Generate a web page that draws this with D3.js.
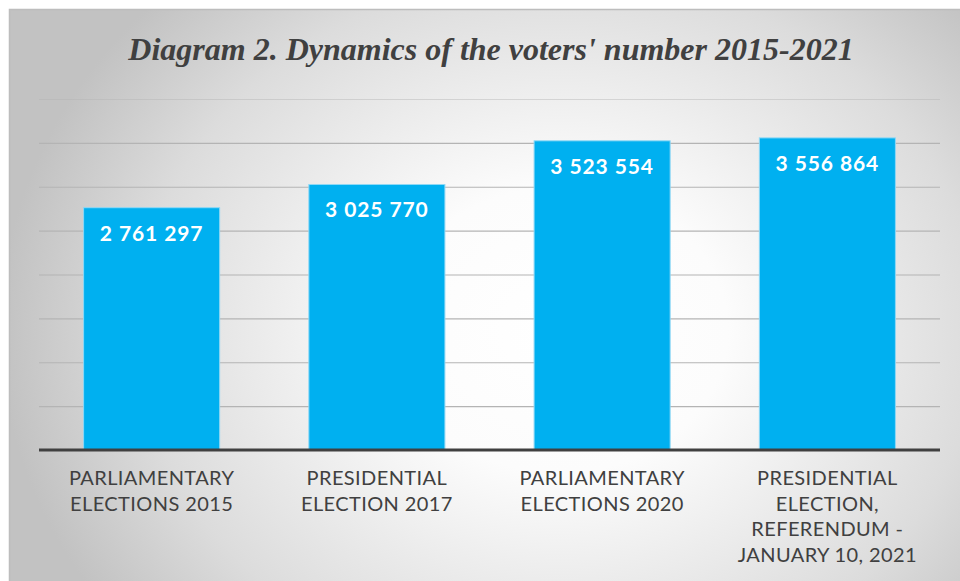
<!DOCTYPE html>
<html>
<head>
<meta charset="utf-8">
<script src="https://cdn.jsdelivr.net/npm/d3@7"></script>
<style>
  html, body { margin: 0; padding: 0; background: #ffffff; }
  svg { display: block; }
</style>
</head>
<body>
<svg id="chart" width="960" height="581"></svg>
<script>
// Elections and registered voters
const categories = [
  ["PARLIAMENTARY", "ELECTIONS 2015"],
  ["PRESIDENTIAL", "ELECTION 2017"],
  ["PARLIAMENTARY", "ELECTIONS 2020"],
  ["PRESIDENTIAL", "ELECTION,", "REFERENDUM -", "JANUARY 10, 2021"]
];
const voters = [2761297, 3025770, 3523554, 3556864];
const valueLabels = ["2 761 297", "3 025 770", "3 523 554", "3 556 864"];
const gridTicks = [500000, 1000000, 1500000, 2000000, 2500000, 3000000, 3500000, 4000000];
const titleText = "Diagram 2. Dynamics of the voters' number 2015-2021";

const W = 960, H = 581;
const svg = d3.select("#chart");
const defs = svg.append("defs");

// Soft radial backdrop: bright centre fading to grey at the edges
const grad = defs.append("radialGradient")
  .attr("id", "bg").attr("gradientUnits", "userSpaceOnUse")
  .attr("cx", 560).attr("cy", 330).attr("r", 560)
  .attr("gradientTransform", "translate(560,330) scale(1,0.85) translate(-560,-330)");
grad.append("stop").attr("offset", 0).attr("stop-color", "#ffffff");
grad.append("stop").attr("offset", 0.3).attr("stop-color", "#fcfcfc");
grad.append("stop").attr("offset", 0.75).attr("stop-color", "#dcdcdc");
grad.append("stop").attr("offset", 1).attr("stop-color", "#c2c2c2");

svg.append("rect")
  .attr("x", 9.5).attr("y", 9.5)
  .attr("width", W).attr("height", H)
  .attr("fill", "url(#bg)")
  .attr("stroke", "#bdbdbd").attr("stroke-width", 1.5);

// Plot area
const left = 39, right = 940, baseY = 450, topY = 99;

const x = d3.scaleBand()
  .domain(d3.range(voters.length))
  .range([left, right])
  .paddingInner(0.396)
  .paddingOuter(0.198);

const y = d3.scaleLinear()
  .domain([0, 4000000])
  .range([baseY, topY]);

// Horizontal gridlines
const grid = d3.axisLeft(y)
  .tickValues(gridTicks)
  .tickSize(-(right - left))
  .tickFormat("");
const gg = svg.append("g")
  .attr("transform", `translate(${left},0)`)
  .call(grid);
gg.select(".domain").remove();
gg.selectAll(".tick line")
  .attr("stroke", "#b4b4b4")
  .attr("stroke-width", 1.2)
  .attr("stroke-opacity", d => d === 4000000 ? 0.45 : 1);

// Title
svg.append("text")
  .attr("x", 491).attr("y", 60)
  .attr("text-anchor", "middle")
  .attr("font-family", "'Liberation Serif', 'Times New Roman', serif")
  .attr("font-style", "italic")
  .attr("font-weight", "bold")
  .attr("font-size", 32)
  .attr("fill", "#404040")
  .text(titleText);

// Bars
svg.append("g").selectAll("rect")
  .data(voters)
  .join("rect")
  .attr("x", (d, i) => x(i))
  .attr("y", d => y(d))
  .attr("width", x.bandwidth())
  .attr("height", d => baseY - y(d))
  .attr("fill", "#00b0f0")
  .attr("stroke", "#8fd8f5")
  .attr("stroke-width", 1);

// Value labels inside bar tops
svg.append("g").selectAll("text")
  .data(voters)
  .join("text")
  .attr("x", (d, i) => x(i) + x.bandwidth() / 2)
  .attr("y", d => y(d) + 33)
  .attr("text-anchor", "middle")
  .attr("font-family", "Lato, 'Noto Sans', sans-serif")
  .attr("font-weight", "bold")
  .attr("font-size", 21)
  .attr("letter-spacing", 0.9)
  .attr("fill", "#ffffff")
  .text((d, i) => valueLabels[i]);

// Baseline
const xAxis = d3.axisBottom(x).tickSize(0).tickFormat("");
const xg = svg.append("g")
  .attr("transform", `translate(0,${baseY})`)
  .call(xAxis);
xg.select(".domain")
  .attr("stroke", "#404040")
  .attr("stroke-width", 3)
  .attr("d", `M${left},0H${right}`);

// Category labels
const catG = svg.append("g");
categories.forEach((lines, i) => {
  const t = catG.append("text")
    .attr("x", x(i) + x.bandwidth() / 2)
    .attr("y", 485)
    .attr("text-anchor", "middle")
    .attr("font-family", "Lato, 'Noto Sans', sans-serif")
    .attr("font-size", 20)
    .attr("letter-spacing", 0.4)
    .attr("fill", "#404040");
  lines.forEach((ln, j) => {
    t.append("tspan")
      .attr("x", x(i) + x.bandwidth() / 2)
      .attr("dy", j === 0 ? 0 : 25.7)
      .text(ln);
  });
});
</script>
</body>
</html>
